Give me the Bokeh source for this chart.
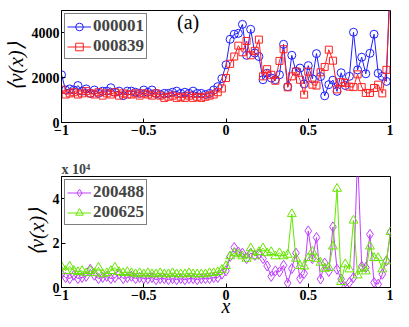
from bokeh.plotting import figure
from bokeh.layouts import column
from bokeh.models import FixedTicker, Range1d, Label
from bokeh.embed import file_html
from bokeh.resources import INLINE

x = [-1.0, -0.975, -0.95, -0.925, -0.9, -0.875, -0.85, -0.825, -0.8, -0.775,
     -0.75, -0.725, -0.7, -0.675, -0.65, -0.625, -0.6, -0.575, -0.55, -0.525,
     -0.5, -0.475, -0.45, -0.425, -0.4, -0.375, -0.35, -0.325, -0.3, -0.275,
     -0.25, -0.225, -0.2, -0.175, -0.15, -0.125, -0.1, -0.075, -0.05, -0.025,
     0.0, 0.025, 0.05, 0.075, 0.1, 0.125, 0.15, 0.175, 0.2, 0.225,
     0.25, 0.275, 0.3, 0.325, 0.35, 0.375, 0.4, 0.425, 0.45, 0.475,
     0.5, 0.525, 0.55, 0.575, 0.6, 0.625, 0.65, 0.675, 0.7, 0.725,
     0.75, 0.775, 0.8, 0.825, 0.85, 0.875, 0.9, 0.925, 0.95, 0.975, 1.0]

s000001 = [2130, 1450, 1500, 1450, 1650, 1400, 1500, 1300, 1450, 1300,
           1400, 1400, 1550, 1350, 1400, 1200, 1400, 1400, 1350, 1300,
           1450, 1350, 1450, 1300, 1250, 1300, 1300, 1350, 1400, 1300,
           1350, 1300, 1400, 1300, 1300, 1250, 1300, 1450, 1600, 1960,
           2575, 3715, 3940, 3980, 4380, 3000, 4160, 3100, 2945, 1910,
           2200, 1985, 1910, 2130, 3490, 1600, 3000, 2280, 2430, 1720,
           2540, 1950, 3075, 2050, 1190, 1690, 1890, 1390, 2220, 1650,
           2060, 4030, 2350, 2915, 2175, 3090, 3940, 2200, 2060, 1835, 7000]

s000839 = [1465, 1250, 1300, 1350, 1250, 1300, 1400, 1300, 1250, 1350,
           1200, 1300, 1250, 1350, 1200, 1300, 1250, 1250, 1300, 1200,
           1300, 1250, 1200, 1300, 1200, 1100, 1150, 1200, 1100, 1150,
           1100, 1200, 1100, 1150, 1100, 1150, 1200, 1250, 1350, 1520,
           1985, 2620, 2945, 3430, 3135, 3640, 3000, 3200, 3700, 2060,
           2380, 2130, 1865, 2750, 3270, 1570, 2060, 2280, 1910, 1245,
           2270, 1690, 1650, 2240, 2480, 3250, 2760, 1480, 1800, 1770,
           1600, 1580, 2150, 1580, 1320, 1320, 1540, 1690, 1300, 2350, 6000]

# bottom panel values, in units of 10^4
s200488 = [0.61, 0.45, 0.40, 0.55, 0.40, 0.45, 0.50, 0.82, 0.55, 0.40,
           0.45, 0.50, 0.40, 0.45, 0.60, 0.40, 0.45, 0.50, 0.40, 0.45,
           0.40, 0.40, 0.45, 0.35, 0.40, 0.40, 0.35, 0.40, 0.35, 0.40,
           0.35, 0.40, 0.40, 0.35, 0.40, 0.40, 0.40, 0.45, 0.45, 0.60,
           0.75, 1.40, 1.80, 1.60, 1.55, 1.30, 1.55, 1.45, 1.50, 1.30,
           0.97, 0.50, 0.75, 0.70, 1.00, 0.20, 0.85, 1.55, 0.40, 0.63,
           2.55, 1.30, 2.25, 0.38, 1.10, 0.72, 2.73, 0.82, 0.38, 0.03,
           0.22, 0.45, 6.00, 0.95, 0.90, 2.39, 0.22, 0.15, 0.60, 1.20, 2.50]

s200625 = [0.95, 0.75, 0.95, 0.75, 0.70, 0.75, 0.65, 0.75, 0.65, 0.90,
           0.60, 0.65, 0.75, 0.90, 0.70, 0.65, 0.70, 0.65, 0.60, 0.65,
           0.60, 0.65, 0.60, 0.60, 0.65, 0.60, 0.60, 0.65, 0.60, 0.60,
           0.60, 0.65, 0.60, 0.60, 0.60, 0.60, 0.65, 0.65, 0.70, 0.80,
           0.97, 1.41, 1.55, 1.50, 1.41, 1.30, 1.77, 1.41, 1.60, 1.77,
           1.55, 1.60, 1.41, 1.55, 1.41, 1.48, 3.31, 1.30, 0.97, 0.95,
           1.33, 1.62, 1.30, 1.12, 0.85, 0.89, 1.85, 4.45, 0.25, 1.05,
           0.82, 3.02, 0.55, 0.85, 0.73, 1.85, 1.33, 1.33, 0.82, 1.18, 2.50]

x_ticks = [-1, -0.5, 0, 0.5, 1]
x_tick_labels = ["\u22121", "\u22120.5", "0", "0.5", "1"]
top_ticks = [0, 2000, 4000]
top_tick_labels = ["0", "2000", "4000"]
bot_ticks = [0, 2, 4]
bot_tick_labels = ["0", "2", "4"]

SERIF = "Liberation Serif"
BLUE = "#1f1fff"
RED = "#ff1f1f"
MAG = "#c040ff"
GRN = "#66e600"


def style_axes(p, yticks, ylabels):
    p.xaxis.ticker = FixedTicker(ticks=x_ticks)
    p.xaxis.major_label_overrides = {t: l for t, l in zip(x_ticks, x_tick_labels)}
    p.yaxis.ticker = FixedTicker(ticks=yticks)
    p.yaxis.major_label_overrides = {t: l for t, l in zip(yticks, ylabels)}
    for ax in (p.xaxis[0], p.yaxis[0]):
        ax.major_tick_in = 4
        ax.major_tick_out = 0
        ax.minor_tick_in = 0
        ax.minor_tick_out = 0
        ax.axis_line_color = "black"
        ax.major_tick_line_color = "black"
        ax.major_label_text_font = SERIF
        ax.major_label_text_font_style = "bold"
        ax.major_label_text_font_size = "14px"
        ax.major_label_text_line_height = 1.0
        ax.major_label_text_color = "black"
        ax.major_label_standoff = 2
    p.yaxis.axis_label = "\u27e8v(x)\u27e9"
    p.yaxis.axis_label_text_font = SERIF
    p.yaxis.axis_label_text_font_style = "italic"
    p.yaxis.axis_label_text_font_size = "21px"
    p.yaxis.axis_label_text_color = "black"
    p.yaxis.axis_label_standoff = 1
    p.xgrid.visible = False
    p.ygrid.visible = False
    p.outline_line_color = "black"
    p.outline_line_alpha = 1


def style_legend(p):
    lg = p.legend[0]
    lg.location = "top_left"
    lg.border_line_color = "black"
    lg.border_line_width = 1
    lg.label_text_font = SERIF
    lg.label_text_font_style = "bold"
    lg.label_text_font_size = "17px"
    lg.glyph_width = 24
    lg.glyph_height = 19
    lg.label_height = 19
    lg.spacing = 0
    lg.padding = 2
    lg.margin = 3
    lg.label_standoff = 2


xr = Range1d(-1, 1)

p1 = figure(width=393, height=152, x_range=xr, y_range=Range1d(0, 5000),
            output_backend="svg", toolbar_location=None,
            min_border_left=54, min_border_right=3, min_border_top=10, min_border_bottom=30)
p1.line(x, s000001, color=BLUE, line_width=1, legend_label="000001")
p1.scatter(x, s000001, marker="circle", size=8, line_color=BLUE, fill_color=None,
           line_width=1, legend_label="000001")
p1.line(x, s000839, color=RED, line_width=1, legend_label="000839")
p1.scatter(x, s000839, marker="square", size=7, line_color=RED, fill_color=None,
           line_width=1, legend_label="000839")
style_axes(p1, top_ticks, top_tick_labels)
style_legend(p1)
p1.add_layout(Label(x=-0.23, y=4480, text="(a)", text_align="center", text_baseline="middle",
                    text_font=SERIF, text_font_size="20px", text_color="black"))

p2 = figure(width=393, height=167, x_range=xr, y_range=Range1d(0, 5),
            output_backend="svg", toolbar_location=None,
            min_border_left=54, min_border_right=3, min_border_top=24, min_border_bottom=32)
p2.line(x, s200488, color=MAG, line_width=1, legend_label="200488")
p2.scatter(x, s200488, marker="diamond", size=10, line_color=MAG, fill_color=None,
           line_width=1, legend_label="200488")
p2.line(x, s200625, color=GRN, line_width=1, legend_label="200625")
p2.scatter(x, s200625, marker="triangle", size=9, line_color=GRN, fill_color=None,
           line_width=1, legend_label="200625")
style_axes(p2, bot_ticks, bot_tick_labels)
style_legend(p2)
p2.xaxis.axis_label = "x"
p2.xaxis.axis_label_text_font = SERIF
p2.xaxis.axis_label_text_font_style = "italic"
p2.xaxis.axis_label_text_font_size = "20px"
p2.xaxis.axis_label_text_line_height = 0.9
p2.xaxis.axis_label_text_color = "black"
p2.xaxis.axis_label_standoff = -8
p2.title.text = "x 10\u2074"
p2.title.align = "left"
p2.title.text_font = SERIF
p2.title.text_font_style = "bold"
p2.title.text_font_size = "14px"
p2.title.standoff = 0
p2.title.offset = 0

layout = column(p1, p2, spacing=0)
open("out.html", "w").write(file_html(layout, INLINE))
